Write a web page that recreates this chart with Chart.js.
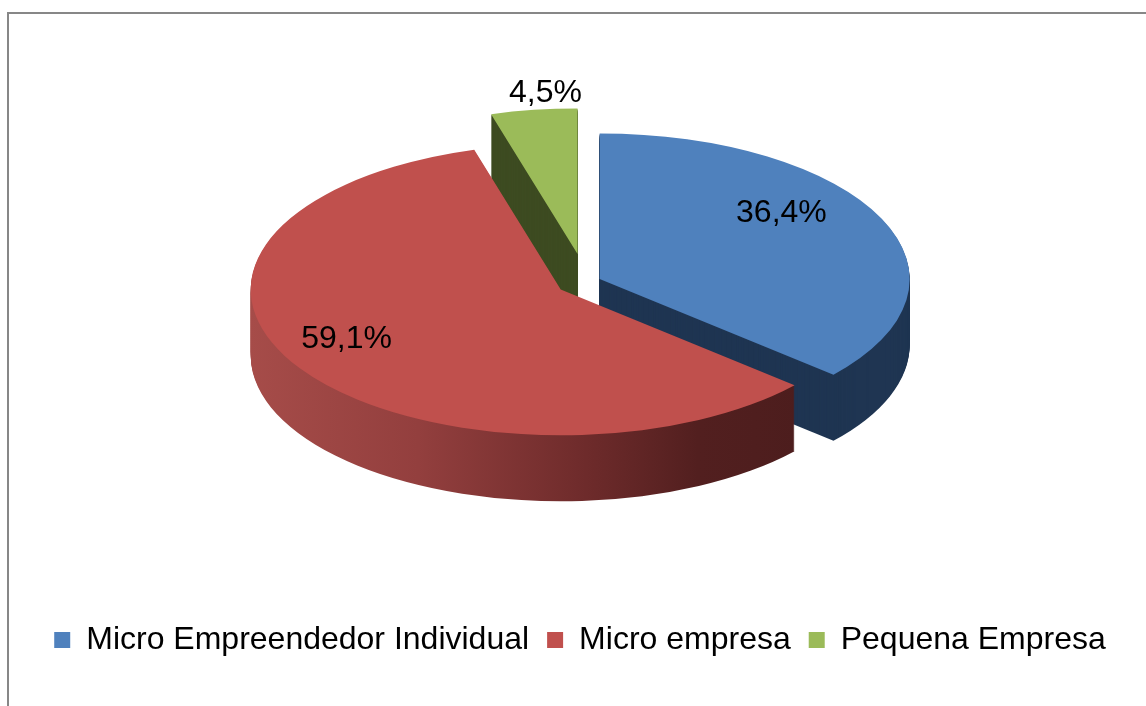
<!DOCTYPE html>
<html>
<head>
<meta charset="utf-8">
<script src="https://cdn.jsdelivr.net/npm/chart.js@4"></script>
<style>
html, body { margin: 0; padding: 0; background: #fff; }
#wrap { position: relative; width: 1146px; height: 706px; overflow: hidden; }
#frame { position: absolute; left: 7px; top: 12px; width: 1200px; height: 800px;
         border-left: 2px solid #878787; border-top: 2px solid #878787; }
#box { position: absolute; left: 0; top: 0; width: 1146px; height: 706px; }
</style>
</head>
<body>
<div id="wrap">
  <div id="frame"></div>
  <div id="box"><canvas id="chart"></canvas></div>
</div>
<script>
const categories = ['Micro Empreendedor Individual', 'Micro empresa', 'Pequena Empresa'];
const shares = [36.4, 59.1, 4.5];
const topColors = ['#4f81bd', '#c0504d', '#9bbb59'];
const sideColors = ['#1f3552', null, '#3d4b21'];
const explode = [15, 30, 60];         // how far each slice is pulled out
const labelAngle = [0.40, 0.53, 0.67]; // where along the slice the label sits
const labelRadius = [0.74, 0.77, 1.11];

// fake 3D: flatten the pie and extrude it downwards
const tilt = 0.47;
const depth = 66;
const centerX = 586, centerY = 282;
const radius = 310;
const font = "'Liberation Sans', Arial, sans-serif";

function fmt(v) {
    return v.toFixed(1).replace('.', ',') + '%';
}

function sliceShift(el, i) {
    const mid = (el.startAngle + el.endAngle) / 2;
    return [Math.cos(mid) * explode[i], Math.sin(mid) * explode[i]];
}

function toScreen(ctx, el, dx, dy, lift) {
    ctx.translate(centerX, centerY + lift);
    ctx.scale(1, tilt);
    ctx.translate(-el.x + dx, -el.y + dy);
}

// red side gets a left-to-right shading like the original
function redSide(ctx, el, dx) {
    const fx = sx => sx - centerX + el.x - dx;
    const g = ctx.createLinearGradient(fx(250), 0, fx(810), 0);
    g.addColorStop(0, '#a64c49');
    g.addColorStop(0.3, '#933f3e');
    g.addColorStop(0.6, '#6e2b2b');
    g.addColorStop(0.8, '#521f1f');
    g.addColorStop(1, '#4c1d1d');
    return g;
}

const pie3d = {
    id: 'pie3d',
    beforeDatasetsDraw(chart) {
        const ctx = chart.ctx;
        const arcs = chart.getDatasetMeta(0).data;
        // back to front
        [0, 2, 1].forEach(i => {
            const el = arcs[i];
            const [dx, dy] = sliceShift(el, i);
            for (let d = depth; d > 0; d--) {
                ctx.save();
                toScreen(ctx, el, dx, dy, d);
                ctx.fillStyle = sideColors[i] || redSide(ctx, el, dx);
                ctx.beginPath();
                ctx.moveTo(el.x, el.y);
                ctx.arc(el.x, el.y, el.outerRadius, el.startAngle, el.endAngle);
                ctx.closePath();
                ctx.fill();
                ctx.restore();
            }
        });
    },
    beforeDatasetDraw(chart, args) {
        const ctx = chart.ctx;
        args.meta.data.forEach((el, i) => {
            const [dx, dy] = sliceShift(el, i);
            ctx.save();
            toScreen(ctx, el, dx, dy, 0);
            el.draw(ctx);
            ctx.restore();
        });
        return false;
    },
    afterDatasetsDraw(chart) {
        const ctx = chart.ctx;
        const arcs = chart.getDatasetMeta(0).data;
        ctx.save();
        ctx.font = '32px ' + font;
        ctx.fillStyle = '#000';
        ctx.textAlign = 'center';
        ctx.textBaseline = 'middle';
        arcs.forEach((el, i) => {
            const [dx, dy] = sliceShift(el, i);
            const a = el.startAngle + (el.endAngle - el.startAngle) * labelAngle[i];
            const r = el.outerRadius * labelRadius[i];
            const x = centerX + dx + Math.cos(a) * r;
            const y = centerY + tilt * (dy + Math.sin(a) * r);
            ctx.fillText(fmt(shares[i]), x, y);
        });
        ctx.restore();
    }
};

new Chart(document.getElementById('chart'), {
    type: 'pie',
    data: {
        labels: categories,
        datasets: [{
            data: shares,
            backgroundColor: topColors,
            borderWidth: 0,
            clip: false
        }]
    },
    options: {
        responsive: true,
        maintainAspectRatio: false,
        animation: false,
        events: [],
        radius: radius,
        layout: { padding: { bottom: 40, left: 14 } },
        plugins: {
            tooltip: { enabled: false },
            legend: {
                position: 'bottom',
                labels: {
                    color: '#000',
                    boxWidth: 16,
                    boxHeight: 16,
                    padding: 18,
                    font: { size: 32, family: font }
                }
            }
        }
    },
    plugins: [pie3d]
});
</script>
</body>
</html>
